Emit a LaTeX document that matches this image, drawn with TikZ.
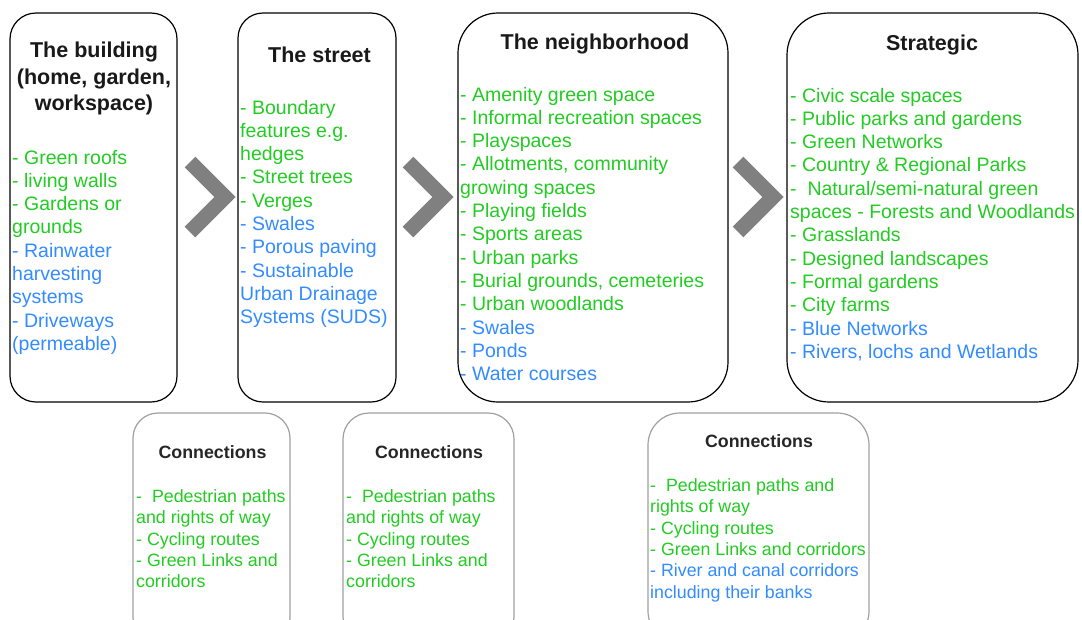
\documentclass[tikz,border=0pt]{standalone}
\usepackage{fontspec}
\setmainfont{Liberation Sans}
\definecolor{grn}{RGB}{34,204,34}
\definecolor{blu}{RGB}{51,140,255}
\definecolor{chev}{RGB}{128,128,128}
\definecolor{cbord}{RGB}{160,160,160}
\tikzset{
  mainbox/.style={draw=black, line width=1.2pt, fill=white, inner sep=0pt},
  connbox/.style={draw=cbord, line width=1.2pt, fill=white, inner sep=0pt},
  titletext/.style={font=\fontsize{21.5}{26.5}\selectfont\bfseries, align=center, inner sep=0pt, anchor=north, text=black!90},
  bodytext/.style={font=\fontsize{19.5}{23.3}\selectfont, align=left, inner sep=0pt, anchor=north west, text=grn},
  ctitletext/.style={font=\fontsize{17.8}{21.3}\selectfont\bfseries, align=center, inner sep=0pt, anchor=north, text=black!85},
  cbodytext/.style={font=\fontsize{17.8}{21.3}\selectfont, align=left, inner sep=0pt, anchor=north west, text=grn},
  chevron/.style={draw=chev, line width=15pt, line join=miter, line cap=butt}
}
\begin{document}
\begin{tikzpicture}[x=1pt,y=-1pt]
\useasboundingbox (0,0) rectangle (1082,619);
\clip (0,0) rectangle (1082,619);
% main boxes
\node[mainbox, rounded corners=26pt, minimum width=167pt, minimum height=389pt] (b1) at (93.5,207.5) {};
\node[mainbox, rounded corners=25pt, minimum width=158pt, minimum height=389pt] (b2) at (317,207.5) {};
\node[mainbox, rounded corners=40pt, minimum width=270pt, minimum height=389pt] (b3) at (593,207.5) {};
\node[mainbox, rounded corners=42pt, minimum width=291pt, minimum height=389pt] (b4) at (932.5,207.5) {};
% connection boxes
\node[connbox, rounded corners=25pt, minimum width=157pt, minimum height=230pt] (c1) at (211.5,528) {};
\node[connbox, rounded corners=26pt, minimum width=171pt, minimum height=230pt] (c2) at (428.5,528) {};
\node[connbox, rounded corners=32pt, minimum width=221pt, minimum height=230pt] (c3) at (758.5,528) {};
% chevrons
\coordinate (k1a) at (190,162); \coordinate (k1b) at (225,197); \coordinate (k1c) at (190,232);
\coordinate (k2a) at (408,162); \coordinate (k2b) at (443,197); \coordinate (k2c) at (408,232);
\coordinate (k3a) at (738,162); \coordinate (k3b) at (773,197); \coordinate (k3c) at (738,232);
\draw[chevron] (k1a) -- (k1b) -- (k1c);
\draw[chevron] (k2a) -- (k2b) -- (k2c);
\draw[chevron] (k3a) -- (k3b) -- (k3c);
% titles
\node[titletext] (t1) at (94,39) {\strut The building\\(home, garden,\\workspace)};
\node[titletext] (t2) at (319.5,44) {\strut The street};
\node[titletext] (t3) at (595,31) {\strut The neighborhood};
\node[titletext] (t4) at (932,32) {\strut Strategic};
% bodies
\node[bodytext] (l1) at (12,147.5) {\strut - Green roofs\\- living walls\\- Gardens or\\grounds\\\textcolor{blu}{- Rainwater}\\\textcolor{blu}{harvesting}\\\textcolor{blu}{systems}\\\textcolor{blu}{- Driveways}\\\textcolor{blu}{(permeable)}};
\node[bodytext] (l2) at (240,97.5) {\strut - Boundary\\features e.g.\\hedges\\- Street trees\\- Verges\\\textcolor{blu}{- Swales}\\\textcolor{blu}{- Porous paving}\\\textcolor{blu}{- Sustainable}\\\textcolor{blu}{Urban Drainage}\\\textcolor{blu}{Systems (SUDS)}};
\node[bodytext] (l3) at (460,84.5) {\strut - Amenity green space\\- Informal recreation spaces\\- Playspaces\\- Allotments, community\\growing spaces\\- Playing fields\\- Sports areas\\- Urban parks\\- Burial grounds, cemeteries\\- Urban woodlands\\\textcolor{blu}{- Swales}\\\textcolor{blu}{- Ponds}\\\textcolor{blu}{- Water courses}};
\node[bodytext] (l4) at (790,85.5) {\strut - Civic scale spaces\\- Public parks and gardens\\- Green Networks\\- Country \& Regional Parks\\-\ \ Natural/semi-natural green\\spaces - Forests and Woodlands\\- Grasslands\\- Designed landscapes\\- Formal gardens\\- City farms\\\textcolor{blu}{- Blue Networks}\\\textcolor{blu}{- Rivers, lochs and Wetlands}};
% connections text
\node[ctitletext] (ct1) at (212.5,443.5) {\strut Connections};
\node[ctitletext] (ct2) at (429,443.5) {\strut Connections};
\node[ctitletext] (ct3) at (759,432.5) {\strut Connections};
\node[cbodytext] (cl1) at (136,487.5) {\strut -\ \ Pedestrian paths\\and rights of way\\- Cycling routes\\- Green Links and\\corridors};
\node[cbodytext] (cl2) at (346,487.5) {\strut -\ \ Pedestrian paths\\and rights of way\\- Cycling routes\\- Green Links and\\corridors};
\node[cbodytext] (cl3) at (650,476.5) {\strut -\ \ Pedestrian paths and\\rights of way\\- Cycling routes\\- Green Links and corridors\\\textcolor{blu}{- River and canal corridors}\\\textcolor{blu}{including their banks}};
\end{tikzpicture}
\end{document}
